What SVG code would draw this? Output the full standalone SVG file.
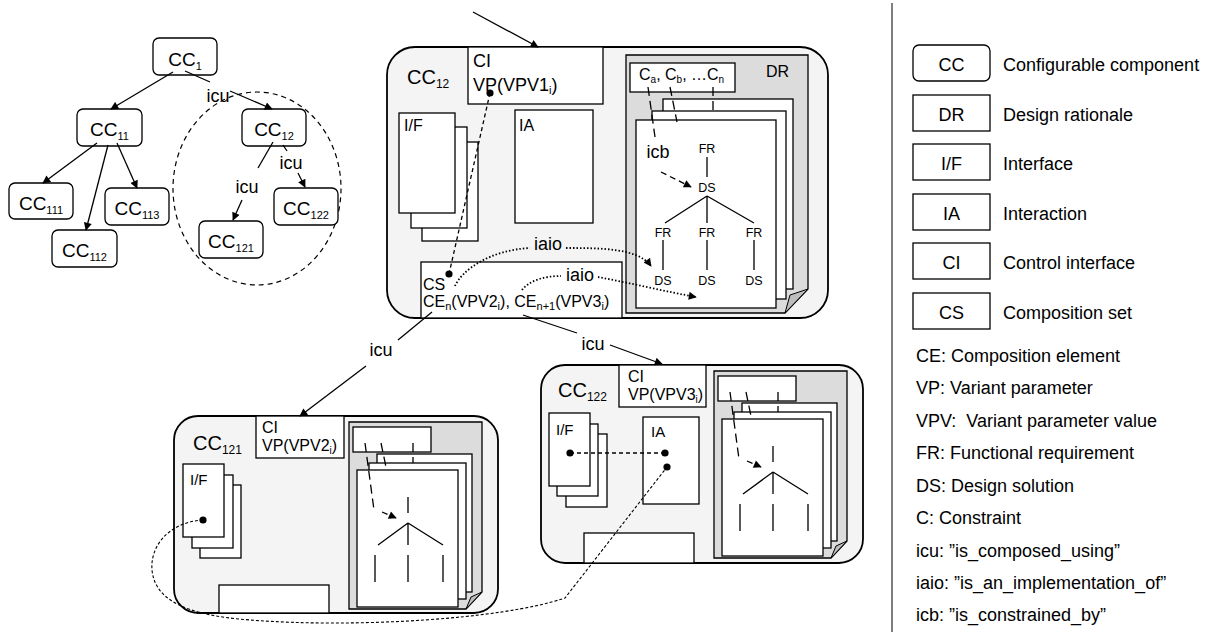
<svg xmlns="http://www.w3.org/2000/svg" width="1209" height="632" viewBox="0 0 1209 632">
<style>
text{font-family:"Liberation Sans",Arial,Helvetica,sans-serif;fill:#000}
.n{fill:#fff;stroke:#000;stroke-width:1.3}
.cc{fill:#f4f4f4;stroke:#000;stroke-width:1.8}
.dr{fill:#dcdcdc;stroke:#000;stroke-width:1.3}
.fold{fill:#bdbdbd;stroke:#000;stroke-width:1}
.pg{fill:#fff;stroke:#000;stroke-width:1.3}
.ln{fill:none;stroke:#000;stroke-width:1.3}
.ar{fill:none;stroke:#000;stroke-width:1.3;marker-end:url(#ah)}
.dash{fill:none;stroke:#000;stroke-width:1.3;stroke-dasharray:4 3}
.ldash{fill:none;stroke:#000;stroke-width:1.3;stroke-dasharray:9 5}
.sdash{fill:none;stroke:#000;stroke-width:1.3;stroke-dasharray:6 4;marker-end:url(#ah)}
.dot{fill:none;stroke:#000;stroke-width:1.8;stroke-dasharray:1.5 2}
.cir{fill:none;stroke:#000;stroke-width:1.2;stroke-dasharray:5 4}
.tc{font-size:19px;text-anchor:middle}
.big{font-size:20px}
.lg{font-size:18px}
.lgc{font-size:18px;text-anchor:middle}
.lab{font-size:18px;text-anchor:middle}
.sm{font-size:12.5px;text-anchor:middle}
</style>
<defs>
<marker id="ah" viewBox="0 0 10 10" refX="9" refY="5" markerWidth="9" markerHeight="8" markerUnits="userSpaceOnUse" orient="auto"><path d="M0,0 L10,5 L0,10 z" fill="#000"/></marker>
<g id="mini">
<path class="dr" d="M175 6 H308 V176 L292 193 H175 Z"/>
<path class="fold" d="M308 176 L292 193 L297 181 Z"/>
<rect class="pg" x="179" y="11" width="78" height="25"/>
<rect class="pg" x="203" y="38" width="95" height="138"/>
<rect class="pg" x="195" y="47" width="97" height="136"/>
<rect class="pg" x="183" y="54" width="101" height="137"/>
<path class="ldash" d="M191 27 L200 94"/>
<path class="sdash" d="M208 96 L222 102"/>
<path class="ldash" d="M207 27 L212 51"/>
<path class="ldash" d="M239 27 L239 47"/>
<path class="ln" d="M234 81 V97 M234 107 L204 129 M234 107 V129 M234 107 L269 129 M201 139 V166 M234 139 V166 M269 139 V166"/>
</g>
</defs>

<!-- Tree -->
<ellipse class="cir" cx="257" cy="188.5" rx="84" ry="96.5"/>
<g id="t-cc1"><rect class="n" x="153" y="38" width="64" height="37" rx="6"/><text class="tc" x="185" y="66">CC<tspan dy="4" font-size="11">1</tspan></text></g>
<g id="t-cc11"><rect class="n" x="77" y="109" width="65" height="37" rx="6"/><text class="tc" x="109.5" y="136">CC<tspan dy="4" font-size="11">11</tspan></text></g>
<g id="t-cc12"><rect class="n" x="242" y="109" width="64" height="37" rx="6"/><text class="tc" x="274" y="136">CC<tspan dy="4" font-size="11">12</tspan></text></g>
<g id="t-cc111"><rect class="n" x="9" y="183" width="64" height="36" rx="6"/><text class="tc" x="41" y="210">CC<tspan dy="4" font-size="11">111</tspan></text></g>
<g id="t-cc113"><rect class="n" x="105" y="188" width="64" height="37" rx="6"/><text class="tc" x="137" y="215">CC<tspan dy="4" font-size="11">113</tspan></text></g>
<g id="t-cc112"><rect class="n" x="52" y="230" width="65" height="37" rx="6"/><text class="tc" x="84.5" y="257">CC<tspan dy="4" font-size="11">112</tspan></text></g>
<g id="t-cc121"><rect class="n" x="199" y="221" width="64" height="37" rx="6"/><text class="tc" x="231" y="248">CC<tspan dy="4" font-size="11">121</tspan></text></g>
<g id="t-cc122"><rect class="n" x="274" y="188" width="64" height="37" rx="6"/><text class="tc" x="306" y="215">CC<tspan dy="4" font-size="11">122</tspan></text></g>
<g id="tree-edges">
<path class="ar" d="M173 72 L111 109"/>
<path class="ln" d="M185 71 L210 82"/>
<path class="ar" d="M230 91 L272 109"/>
<path class="ar" d="M97 143 L43 183"/>
<path class="ar" d="M108 145 L86 230"/>
<path class="ar" d="M117 143 L137 188"/>
<path class="ln" d="M273 142 L258 168"/>
<path class="ar" d="M242 200 L233 220"/>
<path class="ln" d="M283 145 L287 151"/>
<path class="ar" d="M298 173 L305 187"/>
<text class="lab" x="218" y="102">icu</text>
<text class="lab" x="247" y="193">icu</text>
<text class="lab" x="291" y="169">icu</text>
</g>

<!-- CC12 -->
<g id="cc12">
<rect class="cc" x="387" y="47" width="441" height="271" rx="28"/>
<text class="big" x="407" y="84">CC<tspan dy="4" font-size="12">12</tspan></text>
<rect class="n" x="468" y="47" width="135" height="57"/>
<text font-size="18" x="473" y="67">CI</text>
<text font-size="18" x="473" y="91">VP(VPV1<tspan dy="3" font-size="11">i</tspan><tspan dy="-3">)</tspan></text>
<rect class="pg" x="422" y="142" width="56" height="99"/>
<rect class="pg" x="411" y="127" width="56" height="101"/>
<rect class="pg" x="399" y="113" width="56" height="100"/>
<text font-size="16" x="404" y="131">I/F</text>
<rect class="pg" x="515" y="110" width="78" height="113"/>
<text font-size="16" x="519" y="131">IA</text>
<path class="dr" d="M626 55 H808 V289 L785 313 H626 Z"/>
<path class="fold" d="M808 289 L785 313 L790 295 Z"/>
<text font-size="16" x="766" y="77">DR</text>
<rect class="pg" x="630" y="63" width="105" height="29"/>
<text font-size="16" x="639" y="80">C<tspan dy="3" font-size="10">a</tspan><tspan dy="-3">, C</tspan><tspan dy="3" font-size="10">b</tspan><tspan dy="-3">, …C</tspan><tspan dy="3" font-size="10">n</tspan></text>
<rect class="pg" x="663" y="99" width="130" height="190"/>
<rect class="pg" x="652" y="111" width="134" height="188"/>
<rect class="pg" x="636" y="120" width="140" height="188"/>
<path class="ldash" d="M648 87 L655 137"/>
<path class="ldash" d="M670 87 L677 122"/>
<path class="ldash" d="M713 87 L713 113"/>
<text class="lab" x="658" y="158">icb</text>
<path class="sdash" d="M661 172 L691 187"/>
<text class="sm" x="707" y="153">FR</text>
<path class="ln" d="M707 157 V177"/>
<text class="sm" x="707" y="192">DS</text>
<path class="ln" d="M707 196 L665 223 M707 196 V223 M707 196 L754 223"/>
<text class="sm" x="663" y="237">FR</text>
<text class="sm" x="707" y="237">FR</text>
<text class="sm" x="754" y="237">FR</text>
<path class="ln" d="M663 240 V270 M707 240 V270 M754 240 V270"/>
<text class="sm" x="663" y="285">DS</text>
<text class="sm" x="707" y="285">DS</text>
<text class="sm" x="754" y="285">DS</text>
<rect class="n" x="421" y="262" width="201" height="56"/>
<text font-size="16" x="423" y="290">CS</text>
<text font-size="16" x="423" y="307">CE<tspan dy="3" font-size="11">n</tspan><tspan dy="-3">(VPV2</tspan><tspan dy="3" font-size="11">i</tspan><tspan dy="-3">), CE</tspan><tspan dy="3" font-size="11">n+1</tspan><tspan dy="-3">(VPV3</tspan><tspan dy="3" font-size="11">i</tspan><tspan dy="-3">)</tspan></text>
</g>

<!-- CC121 -->
<g id="cc121">
<rect class="cc" x="174" y="416" width="324" height="197" rx="24"/>
<text class="big" x="193" y="450">CC<tspan dy="4" font-size="12">121</tspan></text>
<rect class="n" x="256" y="416" width="88" height="42"/>
<text font-size="16" x="262" y="433">CI</text>
<text font-size="16" x="262" y="451">VP(VPV2<tspan dy="3" font-size="10">i</tspan><tspan dy="-3">)</tspan></text>
<rect class="pg" x="200" y="485" width="41" height="73"/>
<rect class="pg" x="192" y="475" width="41" height="73"/>
<rect class="pg" x="183" y="464" width="41" height="73"/>
<text font-size="15" x="190" y="485">I/F</text>
<rect class="n" x="219" y="585" width="110" height="28"/>
<use href="#mini" x="174" y="416"/>
</g>

<!-- CC122 -->
<g id="cc122">
<rect class="cc" x="541" y="365" width="322" height="198" rx="24"/>
<text class="big" x="558" y="397">CC<tspan dy="4" font-size="12">122</tspan></text>
<rect class="n" x="619" y="365" width="87" height="42"/>
<text font-size="16" x="628" y="382">CI</text>
<text font-size="16" x="628" y="400">VP(VPV3<tspan dy="3" font-size="10">i</tspan><tspan dy="-3">)</tspan></text>
<rect class="pg" x="566" y="434" width="41" height="73"/>
<rect class="pg" x="557" y="424" width="41" height="72"/>
<rect class="pg" x="549" y="413" width="41" height="73"/>
<text font-size="15" x="556" y="435">I/F</text>
<rect class="pg" x="643" y="417" width="56" height="87"/>
<text font-size="15" x="651" y="437">IA</text>
<rect class="n" x="584" y="533" width="110" height="30"/>
<use href="#mini" x="539" y="365"/>
</g>

<!-- Connectors -->
<g id="connectors">
<path class="ar" d="M473 12 L538 47"/>
<path class="dash" d="M490 93 L449 274"/>
<path class="dot" d="M455 286 C462 270 490 250 530 248"/>
<path class="dot" d="M566 248 C600 248 638 248 651 266" marker-end="url(#ah)"/>
<path class="dot" d="M522 290 C530 280 545 276 561 276"/>
<path class="dot" d="M598 277 C630 283 668 292 696 297" marker-end="url(#ah)"/>
<text class="lab" x="548" y="250">iaio</text>
<text class="lab" x="580" y="281">iaio</text>
<path class="ln" d="M432 312 L398 340"/>
<text class="lab" x="381" y="356">icu</text>
<path class="ar" d="M366 366 L300 416"/>
<path class="ln" d="M523 315 L577 333"/>
<text class="lab" x="593" y="350">icu</text>
<path class="ar" d="M610 345 L662 364"/>
<path class="dash" d="M570 453 L665 453"/>
<path fill="none" stroke="#000" stroke-width="1.1" stroke-dasharray="3 2" d="M203 520 C170 522 150 545 152 570 C155 600 185 615 250 620 C350 628 500 620 565 598 L667 467"/>
<circle cx="490" cy="93" r="3.6"/>
<circle cx="449" cy="274" r="3.6"/>
<circle cx="203" cy="520" r="3.6"/>
<circle cx="570" cy="453" r="3.6"/>
<circle cx="665" cy="453" r="3.6"/>
<circle cx="667" cy="467" r="3.6"/>
</g>

<!-- Legend -->
<g id="legend">
<line x1="892" y1="3" x2="892" y2="632" stroke="#555" stroke-width="1.5"/>
<rect class="n" x="913" y="45" width="77" height="36" rx="6"/><text class="lgc" x="951.5" y="71">CC</text><text class="lg" x="1003" y="71">Configurable component</text>
<rect class="n" x="913" y="95" width="77" height="36"/><text class="lgc" x="951.5" y="121">DR</text><text class="lg" x="1003" y="121">Design rationale</text>
<rect class="n" x="913" y="144" width="77" height="36"/><text class="lgc" x="951.5" y="170">I/F</text><text class="lg" x="1003" y="170">Interface</text>
<rect class="n" x="913" y="194" width="77" height="36"/><text class="lgc" x="951.5" y="220">IA</text><text class="lg" x="1003" y="220">Interaction</text>
<rect class="n" x="913" y="243" width="77" height="36"/><text class="lgc" x="951.5" y="269">CI</text><text class="lg" x="1003" y="269">Control interface</text>
<rect class="n" x="913" y="293" width="77" height="36"/><text class="lgc" x="951.5" y="319">CS</text><text class="lg" x="1003" y="319">Composition set</text>
<text class="lg" x="916" y="362">CE: Composition element</text>
<text class="lg" x="916" y="394">VP: Variant parameter</text>
<text class="lg" x="916" y="427" xml:space="preserve">VPV:  Variant parameter value</text>
<text class="lg" x="916" y="459">FR: Functional requirement</text>
<text class="lg" x="916" y="492">DS: Design solution</text>
<text class="lg" x="916" y="524">C: Constraint</text>
<text class="lg" x="916" y="557">icu: ”is_composed_using”</text>
<text class="lg" x="916" y="589">iaio: ”is_an_implementation_of”</text>
<text class="lg" x="916" y="621">icb: ”is_constrained_by”</text>
</g>
</svg>
